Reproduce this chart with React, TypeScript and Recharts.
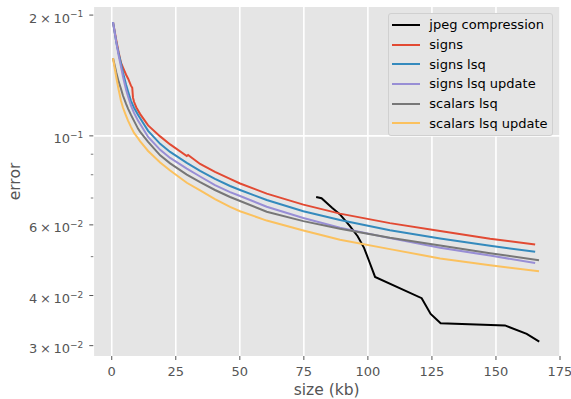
import React from "react"
import { LineChart, Line, XAxis, YAxis, CartesianGrid, Legend, Label } from "recharts"

const FONT = "DejaVu Sans, Verdana, sans-serif"

// sizes (kb) sampled along the compression curves
const signsSizes = [0.5, 1.8, 2.7, 3.6, 4.4, 5.6, 6.4, 7.5, 8.7, 10.3, 11.1, 14.2, 18.9, 22.8, 29.3, 34.5, 40.3, 46.2, 50.1, 60.5, 74.8, 89.1, 108.6, 128.2, 147.7, 165.3]
const scalarsSizes = [0.5, 1.8, 2.7, 3.6, 4.4, 5.6, 6.4, 7.5, 8.7, 10.3, 11.1, 14.2, 18.9, 22.8, 29.3, 34.5, 40.3, 46.2, 50.1, 60.5, 74.8, 89.1, 108.6, 128.2, 147.7, 166.8]
const signsRawSizes = [0.5, 1.8, 2.7, 3.6, 4.4, 5.6, 6.4, 7.5, 8.0, 8.3, 8.7, 9.6, 11.1, 14.2, 18.9, 22.8, 29.3, 29.8, 34.5, 40.3, 46.2, 50.1, 60.5, 74.8, 89.1, 108.6, 128.2, 147.7, 165.3]

const signsErr = [0.192, 0.1728, 0.1613, 0.1522, 0.1479, 0.142, 0.1388, 0.1334, 0.1318, 0.1245, 0.1216, 0.1177, 0.1133, 0.1062, 0.0997, 0.0952, 0.0891, 0.0896, 0.0851, 0.0813, 0.0781, 0.0761, 0.0718, 0.0674, 0.064, 0.0606, 0.0579, 0.0554, 0.0536]
const signsLsqErr = [0.192, 0.1708, 0.1603, 0.1514, 0.1437, 0.1341, 0.1288, 0.1223, 0.1175, 0.1128, 0.1106, 0.1029, 0.0955, 0.0912, 0.0856, 0.0818, 0.0781, 0.075, 0.0733, 0.0692, 0.0649, 0.0617, 0.0582, 0.0555, 0.0532, 0.0514]
const signsLsqUpdErr = [0.192, 0.1708, 0.1585, 0.1488, 0.1404, 0.1303, 0.1252, 0.1189, 0.1141, 0.109, 0.107, 0.0994, 0.0923, 0.0881, 0.0829, 0.0792, 0.0754, 0.0724, 0.0708, 0.0666, 0.0624, 0.059, 0.0556, 0.0526, 0.0503, 0.0482]
const scalarsLsqErr = [0.1561, 0.1437, 0.1365, 0.1311, 0.1259, 0.1202, 0.1168, 0.1128, 0.109, 0.1041, 0.1023, 0.0966, 0.0894, 0.0854, 0.0801, 0.0767, 0.0733, 0.0704, 0.0688, 0.0647, 0.0613, 0.0587, 0.0557, 0.0533, 0.051, 0.049]
const scalarsLsqUpdErr = [0.1561, 0.1396, 0.1303, 0.1223, 0.1175, 0.1122, 0.109, 0.1053, 0.1017, 0.0986, 0.0969, 0.0917, 0.0858, 0.082, 0.0764, 0.0731, 0.0696, 0.0665, 0.0649, 0.0615, 0.0581, 0.0551, 0.0522, 0.0495, 0.0476, 0.046]

const jpegSizes = [79.8, 81.9, 86.0, 89.1, 93.0, 96.0, 98.5, 100.5, 102.8, 121.0, 124.5, 128.4, 153.5, 162.0, 166.9]
const jpegErr = [0.0704, 0.0699, 0.0662, 0.0637, 0.0596, 0.0562, 0.0526, 0.0487, 0.0445, 0.0394, 0.036, 0.0341, 0.0337, 0.0321, 0.0307]

const xTicks = [0, 25, 50, 75, 100, 125, 150, 175]
const yMajorTicks = [0.03, 0.04, 0.06, 0.1, 0.2]
const yMantissas = ["3", "4", "6", "", "2"]
const yExponents = ["−2", "−2", "−2", "−1", "−1"]
const yMinorTicks = [0.05, 0.07, 0.08, 0.09]

const toPoints = (xs: number[], ys: number[]) => xs.map((x, i) => ({ x, y: ys[i] }))

const series = [
  { name: "jpeg compression", color: "#000000", data: toPoints(jpegSizes, jpegErr) },
  { name: "signs", color: "#E24A33", data: toPoints(signsRawSizes, signsErr) },
  { name: "signs lsq", color: "#348ABD", data: toPoints(signsSizes, signsLsqErr) },
  { name: "signs lsq update", color: "#988ED5", data: toPoints(signsSizes, signsLsqUpdErr) },
  { name: "scalars lsq", color: "#777777", data: toPoints(scalarsSizes, scalarsLsqErr) },
  { name: "scalars lsq update", color: "#FBC15E", data: toPoints(scalarsSizes, scalarsLsqUpdErr) },
]

function YTick(props: any) {
  const { x, y, payload } = props
  const idx = yMajorTicks.indexOf(payload.value)
  if (idx < 0) {
    return <line x1={x - 2.5} x2={x} y1={y} y2={y} stroke="#555" strokeWidth={0.8} />
  }
  const m = yMantissas[idx]
  return (
    <g>
      <line x1={x - 4} x2={x} y1={y} y2={y} stroke="#555" strokeWidth={1} />
      <text x={x - 10} y={y + 7.5} textAnchor="end" fill="#555" fontSize={13} fontFamily={FONT}>
        <tspan>{m ? `${m}\u2009×\u200910` : "10"}</tspan>
        <tspan dy={-5.5} fontSize={9}>{yExponents[idx]}</tspan>
      </text>
    </g>
  )
}

function YTitle(props: any) {
  const { viewBox } = props
  const cx = viewBox.x + 20
  const cy = viewBox.y + viewBox.height / 2
  return (
    <text x={cx} y={cy} transform={`rotate(-90 ${cx} ${cy})`} textAnchor="middle" fill="#555" fontSize={15.5} fontFamily={FONT}>
      error
    </text>
  )
}

function XTitle(props: any) {
  const { viewBox } = props
  const cx = viewBox.x + viewBox.width / 2
  return (
    <text x={cx} y={395} textAnchor="middle" fill="#555" fontSize={15.5} fontFamily={FONT}>
      size (kb)
    </text>
  )
}

// legend drawn in plotting order, like matplotlib
function LegendBox() {
  return (
    <div
      style={{
        boxSizing: "border-box",
        width: 165,
        height: 123,
        background: "#E5E5E5",
        border: "1px solid #d0d0d0",
        borderRadius: 3,
        paddingTop: 1,
        fontFamily: FONT,
        fontSize: 13,
        color: "#000",
      }}
    >
      {series.map((s) => (
        <div key={s.name} style={{ display: "flex", alignItems: "center", height: 19.7 }}>
          <svg width={28} height={4} style={{ marginLeft: 2.7, marginRight: 9.6 }}>
            <line x1={0} x2={28} y1={2} y2={2} stroke={s.color} strokeWidth={2} />
          </svg>
          <span style={{ whiteSpace: "nowrap" }}>{s.name}</span>
        </div>
      ))}
    </div>
  )
}

export default function App() {
  return (
    <div style={{ position: "absolute", left: 0, top: 0, width: 571, height: 399, background: "#fff" }}>
      <LineChart width={571} height={399} margin={{ top: 7, right: 11, bottom: 0, left: 0 }}>
        <CartesianGrid stroke="#ffffff" strokeWidth={1.6} fill="#E5E5E5" horizontalValues={[0.1]} />
        <XAxis
          dataKey="x"
          type="number"
          domain={[-7.2, 175]}
          allowDataOverflow
          ticks={xTicks}
          interval={0}
          height={43}
          axisLine={false}
          tickLine={{ stroke: "#555" }}
          tickSize={4}
          tickMargin={7}
          tick={{ fill: "#555", fontSize: 13, fontFamily: FONT }}
        >
          <Label content={XTitle} />
        </XAxis>
        <YAxis
          type="number"
          scale="log"
          domain={[0.02827, 0.2095]}
          allowDataOverflow
          ticks={[...yMajorTicks, ...yMinorTicks]}
          interval={0}
          width={93.3}
          axisLine={false}
          tickLine={false}
          tickSize={0}
          tickMargin={0}
          tick={<YTick />}
        >
          <Label content={YTitle} />
        </YAxis>
        <Legend
          layout="horizontal"
          verticalAlign="middle"
          align="center"
          content={<LegendBox />}
          wrapperStyle={{ left: 388, top: 13, width: 165, height: 123 }}
        />
        {series.map((s) => (
          <Line
            key={s.name}
            data={s.data}
            dataKey="y"
            name={s.name}
            type="linear"
            stroke={s.color}
            strokeWidth={2}
            dot={false}
            activeDot={false}
            isAnimationActive={false}
          />
        ))}
      </LineChart>
    </div>
  )
}
